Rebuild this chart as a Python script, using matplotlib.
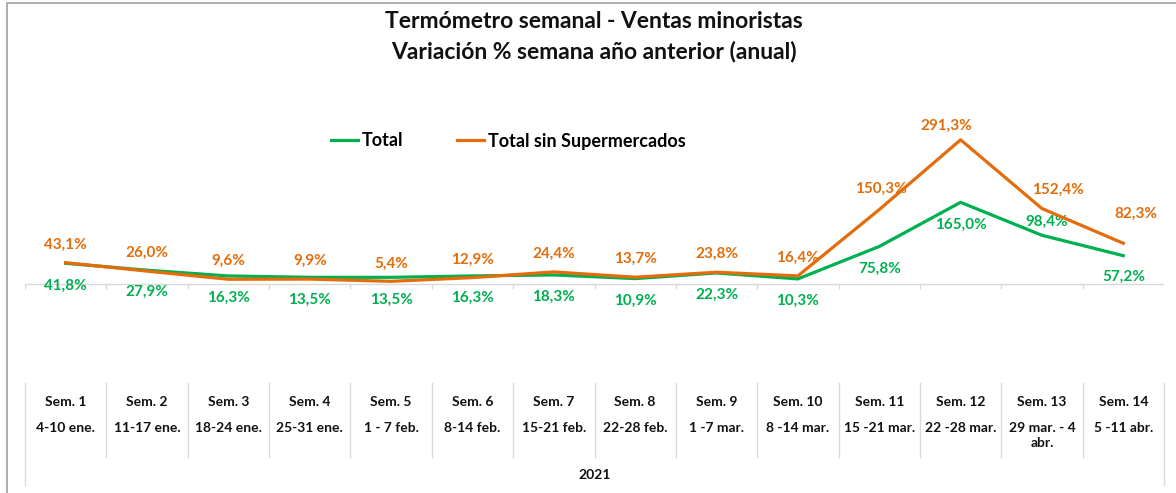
import matplotlib
import matplotlib.pyplot as plt
import matplotlib.transforms as mtransforms
from matplotlib.patches import Rectangle

matplotlib.use('Agg')

plt.rcParams['font.family'] = ['Lato', 'DejaVu Sans']

# datos
semanas = ['Sem. 1', 'Sem. 2', 'Sem. 3', 'Sem. 4', 'Sem. 5', 'Sem. 6', 'Sem. 7',
           'Sem. 8', 'Sem. 9', 'Sem. 10', 'Sem. 11', 'Sem. 12', 'Sem. 13', 'Sem. 14']
fechas = ['4-10 ene.', '11-17 ene.', '18-24 ene.', '25-31 ene.', '1 - 7 feb.', '8-14 feb.',
          '15-21 feb.', '22-28 feb.', '1 -7 mar.', '8 -14 mar.', '15 -21 mar.', '22 -28 mar.',
          '29 mar. - 4\nabr.', '5 -11 abr.']
total = [41.8, 27.9, 16.3, 13.5, 13.5, 16.3, 18.3, 10.9, 22.3, 10.3, 75.8, 165.0, 98.4, 57.2]
sin_super = [43.1, 26.0, 9.6, 9.9, 5.4, 12.9, 24.4, 13.7, 23.8, 16.4, 150.3, 291.3, 152.4, 82.3]
anio = '2021'

VERDE = '#00B050'
NARANJA = '#E46C0A'
GRIS = '#D9D9D9'
TEXTO = '#111111'

# desplazamiento de etiquetas (pixeles): (dx, dy)
off_total = [(0, -22)] * 12 + [(5, 13), (0, -21)]
off_sin = [(0, 18)] * 10 + [(2, 21), (-14, 14), (16, 19), (13, 29)]

W, H = 1176, 493
fig = plt.figure(figsize=(W / 100, H / 100), dpi=100)
ax = fig.add_axes([25 / W, (H - 383) / H, 1139 / W, 297 / H])

x = list(range(len(semanas)))
ax.plot(x, total, color=VERDE, lw=2.3, label='Total', solid_joinstyle='round', zorder=3)
ax.plot(x, sin_super, color=NARANJA, lw=2.3, label='Total sin Supermercados',
        solid_joinstyle='round', zorder=4)


def fmt(v):
    return f'{v:.1f}'.replace('.', ',') + '%'


for xi, v, (dx, dy) in zip(x, total, off_total):
    ax.annotate(fmt(v), (xi, v), xytext=(dx * 0.72, dy * 0.72), textcoords='offset points',
                ha='center', va='center', color=VERDE, fontsize=11, fontweight='bold')
for xi, v, (dx, dy) in zip(x, sin_super, off_sin):
    ax.annotate(fmt(v), (xi, v), xytext=(dx * 0.72, dy * 0.72), textcoords='offset points',
                ha='center', va='center', color=NARANJA, fontsize=11, fontweight='bold')

ax.set_xlim(-0.5, len(semanas) - 0.5)
ax.set_ylim(-200, 400)
ax.axis('off')

# eje horizontal en cero con marcas
ax.axhline(0, color=GRIS, lw=1, zorder=1)
bordes = [i - 0.5 for i in range(len(semanas) + 1)]
trans = mtransforms.blended_transform_factory(ax.transData, ax.transAxes)
px = 1 / 297
ax.vlines(bordes, -10, 0, color=GRIS, lw=1, zorder=1)

# tabla de categorías
for b in bordes[1:-1]:
    ax.plot([b, b], [0, -74 * px], transform=trans, color=GRIS, lw=1, clip_on=False)
for b in (bordes[0], bordes[-1]):
    ax.plot([b, b], [0, -102 * px], transform=trans, color=GRIS, lw=1, clip_on=False)
for xi, s, f in zip(x, semanas, fechas):
    ax.text(xi, -19 * px, s, transform=trans, ha='center', va='center', fontsize=10,
            fontweight='bold', color=TEXTO, clip_on=False)
    ax.text(xi, -39 * px, f, transform=trans, ha='center', va='top', fontsize=10,
            fontweight='bold', color=TEXTO, linespacing=1.3, clip_on=False)
ax.text(6.5, -92 * px, anio, transform=trans, ha='center', va='center', fontsize=10,
        fontweight='bold', color=TEXTO, clip_on=False)

# título y leyenda
fig.text(594 / W, 1 - 22 / H, 'Termómetro semanal - Ventas minoristas', ha='center', va='center',
         fontsize=16.5, fontweight='bold', color=TEXTO)
fig.text(594 / W, 1 - 52 / H, 'Variación % semana año anterior (anual)', ha='center', va='center',
         fontsize=16.5, fontweight='bold', color=TEXTO)
fig.legend(loc='center', bbox_to_anchor=(508 / W, 1 - 141 / H), ncol=2, frameon=False,
           handlelength=1.5, handletextpad=0.2, columnspacing=3.0,
           prop={'size': 13, 'weight': 'bold'})

# marco del gráfico
fig.patches.append(Rectangle((6.5 / W, -0.1), 1.2, 1.1 - 3.5 / H, transform=fig.transFigure,
                             fill=False, edgecolor='#A0A0A0', lw=1.2))

fig.savefig('out.png', dpi=100, facecolor='white')
